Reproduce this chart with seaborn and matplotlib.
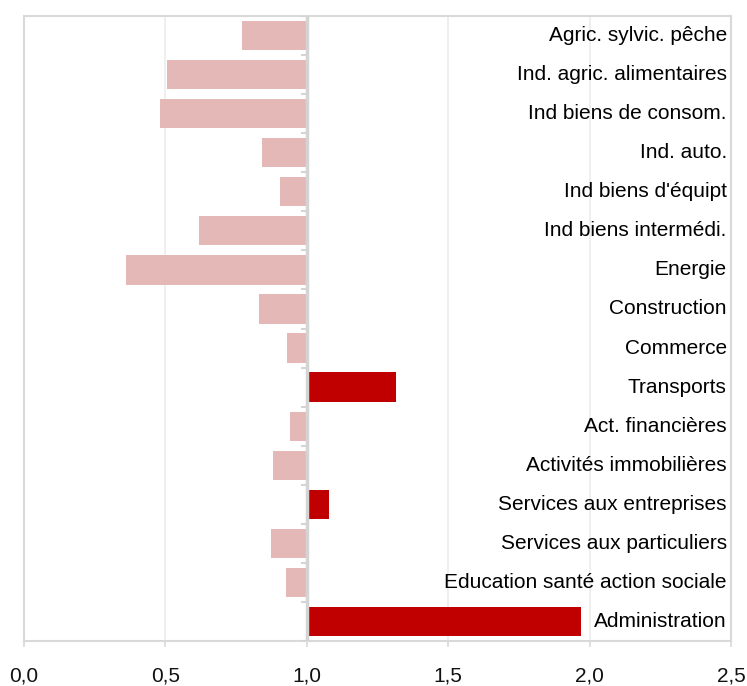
import numpy as np
import pandas as pd
import seaborn as sns
import matplotlib.pyplot as plt
from matplotlib.ticker import FuncFormatter

# Data (ratio, base 1)
sectors = [
    "Agric. sylvic. pêche",
    "Ind. agric. alimentaires",
    "Ind biens de consom.",
    "Ind. auto.",
    "Ind biens d'équipt",
    "Ind biens intermédi.",
    "Energie",
    "Construction",
    "Commerce",
    "Transports",
    "Act. financières",
    "Activités immobilières",
    "Services aux entreprises",
    "Services aux particuliers",
    "Education santé action sociale",
    "Administration",
]
ratios = [0.77, 0.505, 0.48, 0.84, 0.905, 0.62, 0.36, 0.83, 0.93,
          1.315, 0.94, 0.88, 1.08, 0.875, 0.925, 1.97]
x_ticks = [0.0, 0.5, 1.0, 1.5, 2.0, 2.5]
base = 1.0

df = pd.DataFrame({"sector": sectors, "ratio": ratios})
df["delta"] = df["ratio"] - base
colors = ["#C00000" if d > 0 else "#E5B8B8" for d in df["delta"]]

sns.set_style("white")
plt.rcParams["font.family"] = ["Liberation Sans", "DejaVu Sans"]

fig = plt.figure(figsize=(7.47, 6.86), dpi=100)
ax = fig.add_axes([24 / 747, 45 / 686, 707 / 747, 625 / 686])

sns.barplot(data=df, x="delta", y="sector", hue="sector", palette=colors,
            orient="h", width=0.75, legend=False, ax=ax, saturation=1,
            linewidth=0)

# bars start at base 1.0: shift the axis labels instead of the bars
ax.set_xlim(x_ticks[0] - base, x_ticks[-1] - base)
ax.set_xticks([t - base for t in x_ticks])
ax.xaxis.set_major_formatter(FuncFormatter(lambda v, p: f"{v + base:.1f}".replace(".", ",")))
ax.set_ylim(len(sectors) - 0.5, -0.5)
ax.set_yticks([])
ax.set_xlabel("")
ax.set_ylabel("")

ax.grid(axis="x", color="#ececec", lw=1.2, zorder=0)
ax.set_axisbelow(True)
for s in ax.spines.values():
    s.set_color("#d9d9d9")
    s.set_linewidth(1.5)

# axis line at base and its small category ticks
ax.axvline(0, color="#d4d4d4", lw=2.5, zorder=3)
bounds = np.arange(len(sectors) + 1) - 0.5
ax.hlines(bounds, -0.02, 0, color="#d4d4d4", lw=1.5, zorder=3)

ax.tick_params(axis="x", length=4, width=1.2, color="#d9d9d9",
               labelsize=15, pad=14, bottom=True, labelcolor="#111111")

for i, name in enumerate(sectors):
    ax.text(0.994, i, name, transform=ax.get_yaxis_transform(),
            ha="right", va="center", fontsize=15, color="#000000")

fig.savefig("out.png", dpi=100)
